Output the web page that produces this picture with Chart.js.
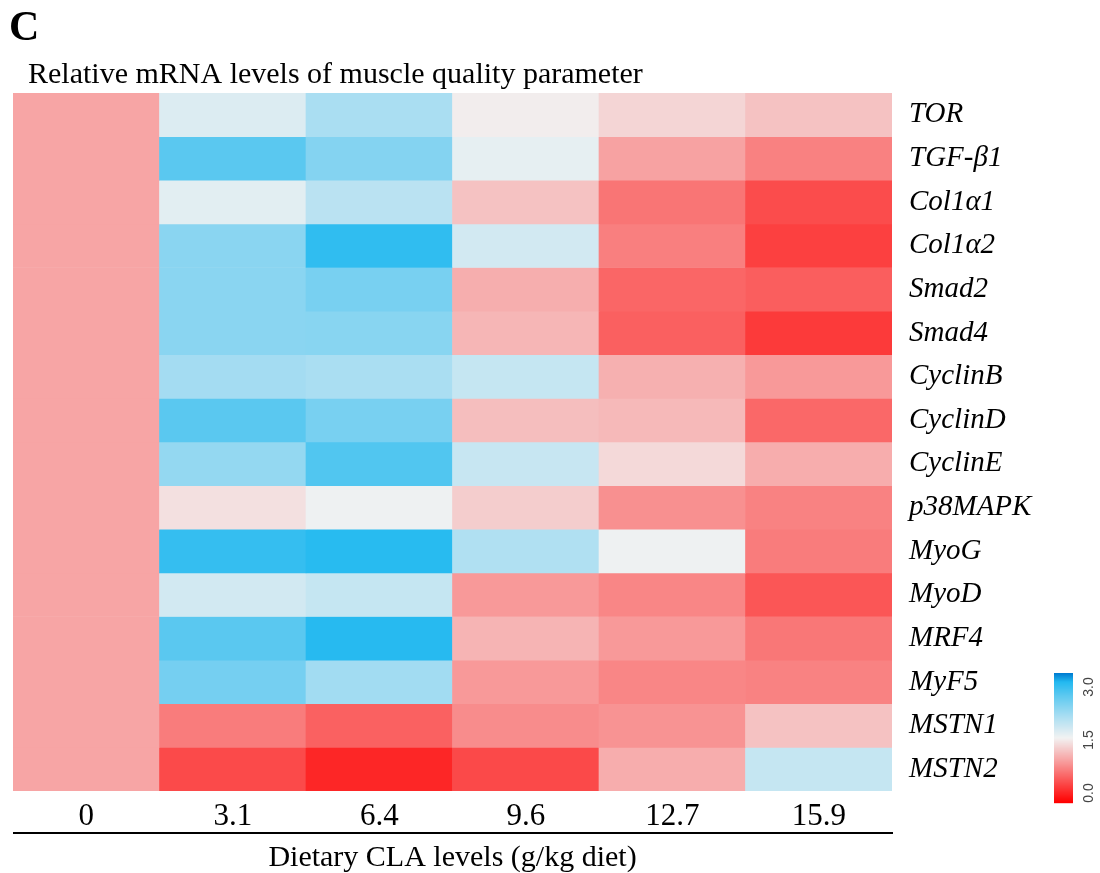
<!DOCTYPE html>
<html>
<head>
<meta charset="utf-8">
<script src="https://cdn.jsdelivr.net/npm/chart.js@4.4.1/dist/chart.umd.min.js"></script>
<style>
  html, body { margin: 0; padding: 0; background: #fff; }
  canvas { display: block; }
</style>
</head>
<body>
<canvas id="heatmap" width="1100" height="873"></canvas>
<script>
// dose groups (x axis) and genes (rows, top to bottom)
const doses = ['0', '3.1', '6.4', '9.6', '12.7', '15.9'];
const genes = ['TOR', 'TGF-β1', 'Col1α1', 'Col1α2', 'Smad2', 'Smad4', 'CyclinB', 'CyclinD',
               'CyclinE', 'p38MAPK', 'MyoG', 'MyoD', 'MRF4', 'MyF5', 'MSTN1', 'MSTN2'];

// relative mRNA levels, one array per dose, in gene order
const cla0   = [1.00, 1.00, 1.00, 1.00, 1.00, 1.00, 1.00, 1.00, 1.00, 1.00, 1.00, 1.00, 1.00, 1.00, 1.00, 1.00];
const cla3_1 = [1.65, 2.50, 1.61, 2.20, 2.20, 2.20, 2.04, 2.50, 2.14, 1.38, 2.70, 1.72, 2.50, 2.33, 0.75, 0.45];
const cla6_4 = [2.00, 2.24, 1.89, 2.73, 2.31, 2.21, 2.00, 2.31, 2.55, 1.53, 2.77, 1.81, 2.78, 2.05, 0.59, 0.23];
const cla9_6 = [1.47, 1.58, 1.19, 1.72, 1.06, 1.11, 1.81, 1.16, 1.80, 1.26, 1.96, 0.93, 1.10, 0.93, 0.85, 0.44];
const cla12_7 = [1.31, 0.98, 0.71, 0.77, 0.62, 0.58, 1.07, 1.13, 1.34, 0.87, 1.53, 0.81, 0.93, 0.81, 0.89, 1.05];
const cla15_9 = [1.19, 0.78, 0.46, 0.39, 0.57, 0.35, 0.93, 0.63, 1.05, 0.79, 0.75, 0.52, 0.72, 0.79, 1.19, 1.81];

// colour scale ticks
const scaleTicks = [0.0, 1.5, 3.0];

const columns = [cla0, cla3_1, cla6_4, cla9_6, cla12_7, cla15_9];

// red -> white -> blue ramp
const stops = [
  [0.0, [255, 0, 0]],
  [1.0, [247, 165, 165]],
  [1.5, [242, 242, 242]],
  [2.0, [170, 222, 242]],
  [2.5, [90, 200, 240]],
  [2.8, [35, 185, 240]],
  [3.0, [0, 125, 210]]
];

function colour(v) {
  v = Math.max(0, Math.min(3, v));
  for (let i = 1; i < stops.length; i++) {
    if (v <= stops[i][0]) {
      const [v0, c0] = stops[i - 1];
      const [v1, c1] = stops[i];
      const t = (v - v0) / (v1 - v0);
      const c = c0.map((x, k) => Math.round(x + (c1[k] - x) * t));
      return `rgb(${c[0]},${c[1]},${c[2]})`;
    }
  }
  return 'rgb(0,125,210)';
}

const serif = "'Liberation Serif', 'Times New Roman', serif";

// one floating-bar dataset per gene row
const datasets = genes.map((g, r) => ({
  label: g,
  data: doses.map(() => [r, r + 1]),
  backgroundColor: columns.map(col => colour(col[r])),
  borderWidth: 0,
  borderSkipped: false,
  grouped: false,
  barPercentage: 1,
  categoryPercentage: 1,
  yAxisID: 'y'
}));

// title, x axis rule and colour key
const decorations = {
  id: 'decorations',
  afterDraw(chart) {
    const ctx = chart.ctx;
    const area = chart.chartArea;
    ctx.save();
    ctx.fillStyle = '#000';
    ctx.textBaseline = 'alphabetic';
    ctx.textAlign = 'left';
    ctx.font = 'bold 42px ' + serif;
    ctx.fillText('C', 9, 40);
    ctx.font = '30px ' + serif;
    ctx.fillText('Relative mRNA levels of muscle quality parameter', 28, 83);

    // rule under the dose labels
    ctx.strokeStyle = '#000';
    ctx.lineWidth = 2;
    ctx.beginPath();
    ctx.moveTo(area.left, area.bottom + 42);
    ctx.lineTo(area.right + 1, area.bottom + 42);
    ctx.stroke();

    // colour key
    const kx = 1054, ky = 673, kw = 19, kh = 130;
    for (let i = 0; i < kh; i++) {
      ctx.fillStyle = colour(3 * (1 - i / (kh - 1)));
      ctx.fillRect(kx, ky + i, kw, 1.2);
    }
    ctx.fillStyle = '#444';
    ctx.font = '14px ' + "'Liberation Sans', Arial, sans-serif";
    ctx.textAlign = 'center';
    ctx.textBaseline = 'middle';
    scaleTicks.forEach(t => {
      const y = ky + 14 + (3 - t) / 3 * (kh - 24);
      ctx.save();
      ctx.translate(1089, y);
      ctx.rotate(-Math.PI / 2);
      ctx.fillText(t.toFixed(1), 0, 0);
      ctx.restore();
    });
    ctx.restore();
  }
};

new Chart(document.getElementById('heatmap'), {
  type: 'bar',
  data: { labels: doses, datasets: datasets },
  options: {
    responsive: false,
    animation: false,
    devicePixelRatio: 1,
    layout: { padding: { left: 13, top: 93, right: 0, bottom: 0 } },
    plugins: {
      legend: { display: false },
      tooltip: { enabled: false }
    },
    scales: {
      x: {
        type: 'category',
        position: 'bottom',
        grid: { display: false, drawTicks: false },
        border: { display: false },
        ticks: { color: '#000', font: { family: serif, size: 31 }, padding: 7, maxRotation: 0 },
        title: {
          display: true,
          text: 'Dietary CLA levels (g/kg diet)',
          color: '#000',
          font: { family: serif, size: 30, lineHeight: 1.0 },
          padding: { top: 0, bottom: 0 }
        },
        afterFit(scale) { scale.height = 82; }
      },
      y: {
        type: 'linear',
        min: 0,
        max: genes.length,
        reverse: true,
        display: false
      },
      yGenes: {
        type: 'category',
        position: 'right',
        labels: genes,
        offset: true,
        grid: { display: false, drawTicks: false },
        border: { display: false },
        ticks: { color: '#000', font: { family: serif, size: 29, style: 'italic' }, padding: 17 },
        afterFit(scale) { scale.width = 208; }
      }
    }
  },
  plugins: [decorations]
});
</script>
</body>
</html>
